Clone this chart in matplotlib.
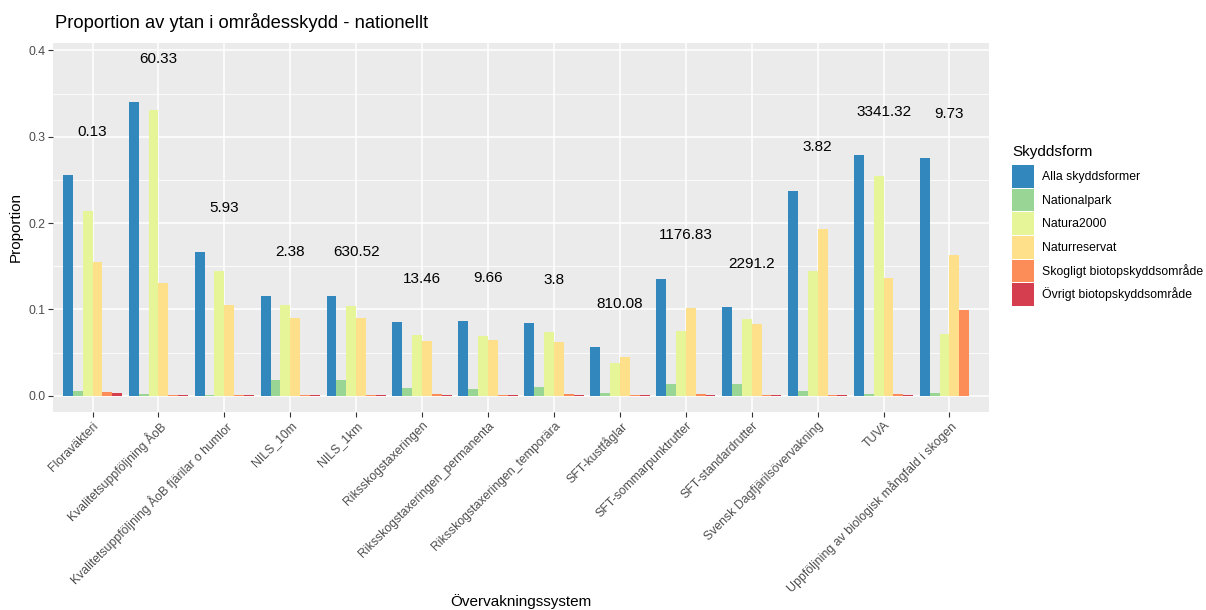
import matplotlib
matplotlib.use("Agg")
import matplotlib.pyplot as plt
import numpy as np

plt.rcParams["font.family"] = ["Liberation Sans", "DejaVu Sans"]

systems = [
    "Floraväkteri",
    "Kvalitetsuppföljning ÅoB",
    "Kvalitetsuppföljning ÅoB fjärilar o humlor",
    "NILS_10m",
    "NILS_1km",
    "Riksskogstaxeringen",
    "Riksskogstaxeringen_permanenta",
    "Riksskogstaxeringen_temporära",
    "SFT-kustfåglar",
    "SFT-sommarpunktrutter",
    "SFT-standardrutter",
    "Svensk Dagfjärilsövervakning",
    "TUVA",
    "Uppföljning av biologisk mångfald i skogen",
]

forms = [
    "Alla skyddsformer",
    "Nationalpark",
    "Natura2000",
    "Naturreservat",
    "Skogligt biotopskyddsområde",
    "Övrigt biotopskyddsområde",
]

alla = [0.256, 0.340, 0.167, 0.116, 0.116, 0.0854, 0.0862, 0.0846, 0.0568, 0.1356, 0.103, 0.2376, 0.2786, 0.2758]
nationalpark = [0.0058, 0.002, 0.001, 0.018, 0.018, 0.0089, 0.0081, 0.0097, 0.0028, 0.0132, 0.0139, 0.0058, 0.0015, 0.003]
natura2000 = [0.214, 0.331, 0.144, 0.1055, 0.104, 0.0703, 0.0695, 0.0734, 0.0375, 0.0753, 0.0889, 0.1445, 0.2542, 0.0711]
naturreservat = [0.155, 0.130, 0.105, 0.0897, 0.0897, 0.0634, 0.0645, 0.0626, 0.0448, 0.102, 0.0827, 0.1928, 0.1364, 0.163]
skogligt = [0.004, 0.0008, 0.0008, 0.0012, 0.0012, 0.002, 0.0012, 0.002, 0.0008, 0.0018, 0.0012, 0.0008, 0.0018, 0.099]
ovrigt = [0.003, 0.0008, 0.0008, 0.0004, 0.0004, 0.0006, 0.0004, 0.0006, 0.0004, 0.0006, 0.0004, 0.0008, 0.0012, 0.0]

area_labels = ["0.13", "60.33", "5.93", "2.38", "630.52", "13.46", "9.66", "3.8",
               "810.08", "1176.83", "2291.2", "3.82", "3341.32", "9.73"]

series = [alla, nationalpark, natura2000, naturreservat, skogligt, ovrigt]
colors = ["#3288BD", "#99D594", "#E6F598", "#FEE08B", "#FC8D59", "#D53E4F"]

W, H = 1206, 610
fig = plt.figure(figsize=(W / 100, H / 100), dpi=100)
ax = fig.add_axes([53 / W, 198 / H, 936 / W, 369 / H])
ax.set_facecolor("#EBEBEB")

x = np.arange(len(systems))
width = 0.9 / len(forms)
handles = []
for j, (vals, col, name) in enumerate(zip(series, colors, forms)):
    h = ax.bar(x + (j - 2.5) * width, vals, width=width, color=col,
               linewidth=0, label=name, zorder=3)
    handles.append(h)

# group labels placed above the tallest bar of each group
tops = np.max(np.array(series), axis=0)
for xi, top, lab in zip(x, tops, area_labels):
    ax.text(xi, top + 0.05, lab, ha="center", va="center", fontsize=11,
            color="black", zorder=4)

ax.set_xlim(-0.6, 13.6)
ax.set_ylim(-0.0189, 0.4086)
ax.set_yticks([0.0, 0.1, 0.2, 0.3, 0.4])
ax.set_yticklabels(["0.0", "0.1", "0.2", "0.3", "0.4"])
ax.set_yticks([0.05, 0.15, 0.25, 0.35], minor=True)
ax.set_xticks(x)
ax.set_xticklabels(systems, rotation=45, ha="right", va="top",
                   rotation_mode="anchor")

ax.grid(True, which="major", color="white", linewidth=1.1, zorder=0)
ax.grid(True, which="minor", axis="y", color="white", linewidth=0.55, zorder=0)
ax.set_axisbelow(True)
for s in ax.spines.values():
    s.set_visible(False)
ax.tick_params(axis="both", which="major", length=3.5, width=0.8,
               color="#333333", labelcolor="#4D4D4D", labelsize=8.8, pad=2)
ax.tick_params(axis="both", which="minor", length=0)

ax.set_xlabel("Övervakningssystem", fontsize=11, color="black")
ax.xaxis.set_label_coords(0.5, -(602 - 412) / 369, transform=ax.transAxes)
ax.xaxis.label.set_va("center")
ax.set_ylabel("Proportion", fontsize=11, color="black", labelpad=4)

fig.text(55 / W, 1 - 22 / H, "Proportion av ytan i områdesskydd - nationellt",
         fontsize=13.2, ha="left", va="center", color="black")

# legend: title as its own text, keys stacked below it
fig.text(1012 / W, 1 - 152 / H, "Skyddsform", fontsize=11, ha="left",
         va="center", color="black")
ax.legend(handles=handles, labels=forms,
          loc="upper left", bbox_to_anchor=(1012 / W, 1 - 165 / H),
          bbox_transform=fig.transFigure, frameon=False, fontsize=8.8,
          handlelength=1.8, handleheight=2.48,
          labelspacing=0.08, handletextpad=0.65, borderaxespad=0,
          borderpad=0)

fig.savefig("out.png", dpi=100)
